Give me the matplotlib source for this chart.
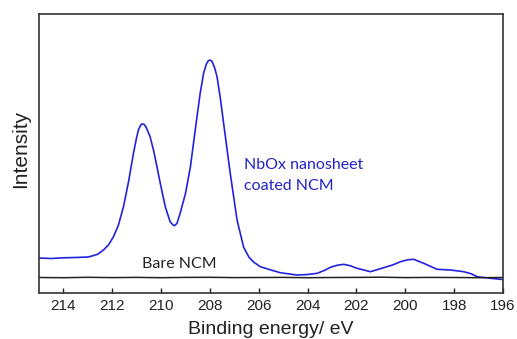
import matplotlib
matplotlib.use("Agg")
import matplotlib.pyplot as plt
import numpy as np

# Binding energy (eV) and intensity (a.u.)
coated_energy = [215.0, 214.5, 214.0, 213.5, 213.0, 212.9, 212.6, 212.36, 212.15, 211.95,
                 211.75, 211.54, 211.33, 211.13, 211.0, 210.93, 210.85, 210.79, 210.7,
                 210.62, 210.45, 210.3, 210.17, 210.0,
                 209.83, 209.63, 209.52, 209.45, 209.35, 209.22, 209.0, 208.8, 208.53,
                 208.4, 208.26, 208.15, 208.07, 208.0, 207.92, 207.82, 207.71, 207.58,
                 207.44, 207.17, 206.89, 206.62, 206.4, 206.2,
                 205.94, 205.5, 205.12, 204.8, 204.43, 204.0, 203.61, 203.3, 203.07,
                 202.8, 202.52, 202.25, 201.98, 201.43, 200.89, 200.5, 200.2, 199.9,
                 199.66, 199.25, 198.7, 198.15, 197.61, 197.3, 197.06, 196.51, 196.1, 196.0]
coated_intensity = [35.3, 34.8, 35.5, 35.8, 36.3, 36.8, 39.0, 43.3, 48.5, 56.6,
                    68.0, 86.6, 112.0, 140.3, 156.0, 163.3, 167.5, 169.3, 169.0,
                    166.5, 156.6, 142.0, 126.6, 106.0,
                    86.6, 71.6, 68.5, 67.6, 70.0, 80.0, 100.0, 126.6, 176.6,
                    200.0, 220.0, 229.0, 232.5, 233.3, 232.0, 226.5, 216.6, 196.0,
                    170.0, 120.0, 73.3, 46.0, 36.0, 31.0,
                    26.6, 23.3, 20.6, 19.5, 18.3, 18.8, 20.0, 23.0, 26.0,
                    28.0, 29.0, 27.5, 25.0, 21.6, 25.6, 28.5, 31.6, 33.5,
                    34.0, 30.0, 24.0, 23.3, 21.6, 19.5, 16.6, 15.0, 14.0, 13.8]

bare_energy = [215.0, 214.0, 213.0, 212.0, 211.0, 210.0, 209.0, 208.0, 207.0, 206.0,
               205.0, 204.0, 203.0, 202.0, 201.0, 200.0, 199.0, 198.0, 197.0, 196.0]
bare_intensity = [15.8, 15.6, 16.0, 15.7, 15.9, 15.6, 15.9, 16.0, 15.7, 15.8,
                  15.9, 15.6, 15.8, 15.9, 16.1, 15.7, 15.9, 15.8, 15.6, 15.8]

x_ticks = [214, 212, 210, 208, 206, 204, 202, 200, 198, 196]

fig = plt.figure(figsize=(5.17, 3.39), dpi=100)
ax = fig.add_axes([0.0754, 0.1348, 0.8976, 0.8239])

blue = "#2222dd"
ax.plot(coated_energy, coated_intensity, color=blue, lw=1.2)
ax.plot(bare_energy, bare_intensity, color="#222222", lw=1.1)

ax.set_xlim(215, 196)
ax.set_ylim(0, 279.3)
ax.set_xticks(x_ticks)
ax.set_yticks([])
ax.tick_params(axis="x", direction="in", length=3.5, width=1.0, pad=4,
               labelsize=11, colors="#222222")
for lab in ax.get_xticklabels():
    lab.set_family("Liberation Sans")
for s in ax.spines.values():
    s.set_color("#333333")
    s.set_linewidth(1.2)

ax.set_xlabel("Binding energy/ eV", family="Liberation Sans", fontsize=14,
              color="#222222", labelpad=6)
ax.set_ylabel("Intensity", family="Liberation Sans", fontsize=15,
              color="#222222")
ax.yaxis.set_label_coords(-0.02, 0.518)

ax.text(206.59, 124.3, "NbOx nanosheet", color="#2323c8",
        family="Lato", fontsize=11.5, va="baseline", ha="left")
ax.text(206.59, 103.3, "coated NCM", color="#2323c8",
        family="Lato", fontsize=11.5, va="baseline", ha="left")
ax.text(210.79, 25, "Bare NCM", color="#222222", family="Lato",
        fontsize=11.5, va="baseline", ha="left")

fig.savefig("out.png", dpi=100)
